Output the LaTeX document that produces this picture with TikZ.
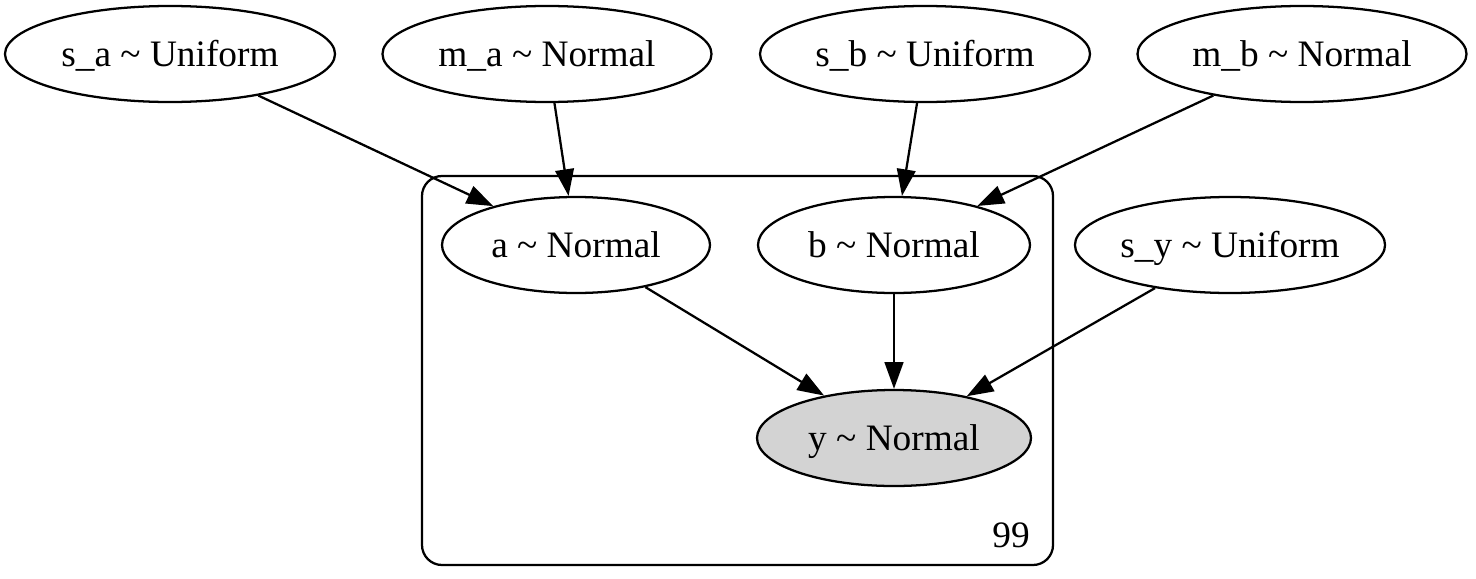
\documentclass[tikz,border=0pt]{standalone}
\usepackage{fontspec}
\setmainfont{Liberation Serif}
\usetikzlibrary{shapes.geometric,arrows.meta}
\begin{document}
\begin{tikzpicture}[x=0.375pt,y=-0.375pt,
  rv/.style={draw,ellipse,line width=0.85pt,inner sep=0pt,font=\fontsize{14pt}{16pt}\selectfont,text height=11pt,text depth=2pt,minimum height=96*0.375pt},
  obs/.style={rv,fill={rgb,255:red,211;green,211;blue,211}},
  edge/.style={line width=0.85pt,-{Triangle[length=10pt,width=7pt]}},
  plate/.style={draw,line width=0.85pt,rounded corners=7.5pt}]
\useasboundingbox (0,0) rectangle (1476,578);
\draw[plate] (422,176) rectangle (1053,565);
\node[font=\fontsize{14pt}{16pt}\selectfont,text height=11pt,text depth=2pt] (n99) at (1011,535) {99};
\node[rv,minimum width=330*0.375pt] (sa) at (170,54) {s\_a \textasciitilde{} Uniform};
\node[rv,minimum width=329*0.375pt] (ma) at (547,54) {m\_a \textasciitilde{} Normal};
\node[rv,minimum width=330*0.375pt] (sb) at (925,54) {s\_b \textasciitilde{} Uniform};
\node[rv,minimum width=329*0.375pt] (mb) at (1302,54) {m\_b \textasciitilde{} Normal};
\node[rv,minimum width=268*0.375pt] (a) at (576,245) {a \textasciitilde{} Normal};
\node[rv,minimum width=272*0.375pt] (b) at (894,245) {b \textasciitilde{} Normal};
\node[rv,minimum width=304*0.375pt] (sy) at (1230,245) {s\_y \textasciitilde{} Uniform};
\node[obs,minimum width=274*0.375pt] (y) at (894,438) {y \textasciitilde{} Normal};
\draw[edge] (sa) -- (a);
\draw[edge] (ma) -- (a);
\draw[edge] (sb) -- (b);
\draw[edge] (mb) -- (b);
\draw[edge] (a) -- (y);
\draw[edge] (b) -- (y);
\draw[edge] (sy) -- (y);
\end{tikzpicture}
\end{document}
